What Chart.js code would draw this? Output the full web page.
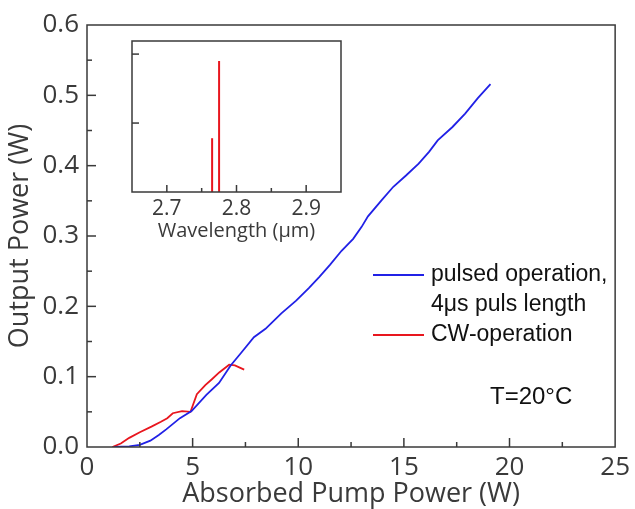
<!DOCTYPE html>
<html>
<head>
<meta charset="utf-8">
<script src="https://cdn.jsdelivr.net/npm/chart.js@4"></script>
<style>
body { margin: 0; background: #fff; }
#wrap { position: relative; width: 635px; height: 509px; }
#main { position: absolute; left: 0; top: 0; width: 635px; height: 509px; }
#inset { position: absolute; left: 100px; top: 30px; width: 260px; height: 215px; }
</style>
</head>
<body>
<div id="wrap">
  <div id="main"><canvas id="graficoPotencia"></canvas></div>
  <div id="inset"><canvas id="graficoEspectro"></canvas></div>
</div>
<script>
// pulsed operation (blue)
const pumpPulsed = [1.3, 2.0, 2.5, 3.0, 3.4, 3.75, 4.4, 4.95, 5.65, 6.25, 6.8, 7.3, 7.9, 8.45, 9.2, 9.9, 10.5, 11.0, 11.5, 12.05, 12.6, 13.0, 13.3, 13.95, 14.5, 15.1, 15.7, 16.2, 16.6, 17.3, 17.9, 18.5, 19.1]
const powerPulsed = [0, 0.001, 0.003, 0.009, 0.017, 0.025, 0.041, 0.051, 0.074, 0.091, 0.116, 0.134, 0.156, 0.168, 0.19, 0.208, 0.226, 0.242, 0.259, 0.279, 0.296, 0.313, 0.328, 0.351, 0.37, 0.386, 0.403, 0.42, 0.436, 0.455, 0.474, 0.496, 0.516]
// CW operation (red)
const pumpCw = [1.2, 1.6, 2.0, 2.5, 3.05, 3.5, 3.8, 4.06, 4.5, 4.9, 5.2, 5.6, 5.9, 6.26, 6.73, 7.0, 7.44]
const powerCw = [0, 0.005, 0.013, 0.021, 0.029, 0.036, 0.041, 0.048, 0.051, 0.05, 0.075, 0.088, 0.096, 0.106, 0.117, 0.116, 0.11]
// inset spectrum
const peakWavelength = [2.765, 2.775]
const peakIntensity = [0.78, 1.9]

const legendLines = [["pulsed operation,", "4μs puls length"], ["CW-operation"]]
const tempLabel = "T=20°C"

const blue = "#2121e6"
const red = "#e8161e"
const axisColor = "#3a3a3a"
const fuente = "'Open Sans', sans-serif"

const esMayor = (v, step) => Math.abs(v / step - Math.round(v / step)) < 1e-6

// frame around the plot and inward tick marks
const marcoTicks = {
  id: "marcoTicks",
  afterDatasetsDraw(chart, args, opts) {
    const { ctx, chartArea: a, scales } = chart
    ctx.save()
    ctx.strokeStyle = axisColor
    ctx.lineWidth = opts.width
    ctx.strokeRect(a.left, a.top, a.right - a.left, a.bottom - a.top)
    scales.x.ticks.forEach((t) => {
      const px = scales.x.getPixelForValue(t.value)
      if (px <= a.left + 1 || px >= a.right - 1) return
      const len = esMayor(t.value, opts.stepX) ? opts.major : opts.minor
      ctx.beginPath()
      ctx.moveTo(px, a.bottom)
      ctx.lineTo(px, a.bottom - len)
      ctx.stroke()
    })
    scales.y.ticks.forEach((t) => {
      const py = scales.y.getPixelForValue(t.value)
      if (py <= a.top + 1 || py >= a.bottom - 1) return
      const len = esMayor(t.value, opts.stepY) ? opts.major : opts.minor
      ctx.beginPath()
      ctx.moveTo(a.left, py)
      ctx.lineTo(a.left + len, py)
      ctx.stroke()
    })
    ctx.restore()
  },
}

// legend + temperature note inside the main plot
const leyenda = {
  id: "leyenda",
  afterDraw(chart) {
    const { ctx, chartArea: a } = chart
    const x0 = a.left + 286
    let y = a.top + 250
    ctx.save()
    ctx.font = "23px 'Liberation Sans', Arial, sans-serif"
    ctx.textBaseline = "middle"
    ctx.fillStyle = "#111"
    chart.data.datasets.forEach((ds, i) => {
      ctx.strokeStyle = ds.borderColor
      ctx.lineWidth = 1.8
      ctx.beginPath()
      ctx.moveTo(x0, y)
      ctx.lineTo(x0 + 51, y)
      ctx.stroke()
      legendLines[i].forEach((linea) => {
        ctx.fillText(linea, x0 + 58, y)
        y += 30
      })
    })
    ctx.font = "24px 'Liberation Sans', Arial, sans-serif"
    ctx.fillText(tempLabel, a.left + 403, a.top + 372)
    ctx.restore()
  },
}

const principal = document.getElementById("graficoPotencia")

new Chart(principal, {
  type: "line",
  data: {
    datasets: [
      {
        label: "pulsed operation, 4μs puls length",
        data: pumpPulsed.map((x, i) => ({ x: x, y: powerPulsed[i] })),
        borderColor: blue,
        borderWidth: 1.8,
      },
      {
        label: "CW-operation",
        data: pumpCw.map((x, i) => ({ x: x, y: powerCw[i] })),
        borderColor: red,
        borderWidth: 1.8,
      },
    ],
  },
  options: {
    responsive: true,
    maintainAspectRatio: false,
    animation: false,
    layout: { padding: { top: 25, right: 17, left: 0, bottom: 0 } },
    elements: { point: { radius: 0 }, line: { tension: 0 } },
    plugins: {
      legend: { display: false },
      tooltip: { enabled: false },
      marcoTicks: { width: 1.5, major: 9, minor: 5, stepX: 5, stepY: 0.1 },
    },
    scales: {
      x: {
        type: "linear",
        min: 0,
        max: 25,
        afterFit: (s) => { s.height = 62 },
        grid: { display: false, drawTicks: false },
        border: { display: false },
        ticks: {
          stepSize: 2.5,
          autoSkip: false,
          maxRotation: 0,
          padding: 5,
          color: axisColor,
          font: { family: fuente, size: 26 },
          callback: (v) => (esMayor(v, 5) ? String(Math.round(v)) : ""),
        },
        title: {
          display: true,
          text: "Absorbed Pump Power (W)",
          color: axisColor,
          font: { family: fuente, size: 27 },
          padding: { top: 0, bottom: -2 },
        },
      },
      y: {
        min: 0,
        max: 0.6,
        afterFit: (s) => { s.width = 87 },
        grid: { display: false, drawTicks: false },
        border: { display: false },
        ticks: {
          stepSize: 0.05,
          autoSkip: false,
          padding: 8,
          color: axisColor,
          font: { family: fuente, size: 26 },
          callback: (v) => (esMayor(v, 0.1) ? v.toFixed(1) : ""),
        },
        title: {
          display: true,
          text: "Output Power (W)",
          color: axisColor,
          font: { family: fuente, size: 27 },
          padding: { top: 4, bottom: 0 },
        },
      },
    },
  },
  plugins: [marcoTicks, leyenda],
})

const espectro = document.getElementById("graficoEspectro")

new Chart(espectro, {
  type: "line",
  data: {
    datasets: peakWavelength.map((wl, i) => ({
      label: "peak " + wl,
      data: [{ x: wl, y: 0 }, { x: wl, y: peakIntensity[i] }],
      borderColor: red,
      borderWidth: 2,
    })),
  },
  options: {
    responsive: true,
    maintainAspectRatio: false,
    animation: false,
    layout: { padding: { top: 11, right: 19, left: 0, bottom: 0 } },
    elements: { point: { radius: 0 } },
    plugins: {
      legend: { display: false },
      tooltip: { enabled: false },
      marcoTicks: { width: 1.5, major: 7, minor: 4, stepX: 0.1, stepY: 1 },
    },
    scales: {
      x: {
        type: "linear",
        min: 2.65,
        max: 2.95,
        afterFit: (s) => { s.height = 53 },
        grid: { display: false, drawTicks: false },
        border: { display: false },
        ticks: {
          stepSize: 0.05,
          autoSkip: false,
          maxRotation: 0,
          padding: 4,
          color: axisColor,
          font: { family: fuente, size: 21 },
          callback: (v) => (esMayor(v, 0.1) ? v.toFixed(1) : ""),
        },
        title: {
          display: true,
          text: "Wavelength (μm)",
          color: axisColor,
          font: { family: fuente, size: 20 },
          padding: { top: 0, bottom: 2 },
        },
      },
      y: {
        min: 0,
        max: 2.19,
        afterFit: (s) => { s.width = 32 },
        grid: { display: false, drawTicks: false },
        border: { display: false },
        ticks: { display: false, stepSize: 1, includeBounds: false },
      },
    },
  },
  plugins: [marcoTicks],
})
</script>
</body>
</html>
